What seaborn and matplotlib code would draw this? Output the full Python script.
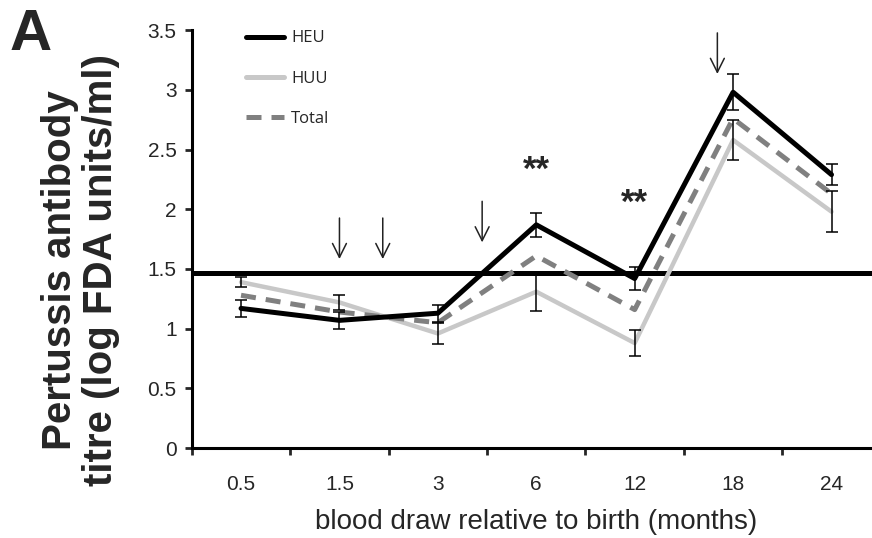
import numpy as np
import pandas as pd
import matplotlib
matplotlib.use("Agg")
import matplotlib.pyplot as plt
import seaborn as sns

# data
months = ["0.5", "1.5", "3", "6", "12", "18", "24"]
heu = [1.17, 1.07, 1.13, 1.87, 1.42, 2.98, 2.29]
huu = [1.39, 1.22, 0.96, 1.31, 0.88, 2.58, 1.98]
total = [1.28, 1.14, 1.05, 1.61, 1.16, 2.76, 2.13]
heu_err = [0.07, 0.07, 0.07, 0.10, 0.10, 0.15, 0.09]
huu_err = [0.04, 0.06, 0.09, 0.16, 0.11, 0.17, 0.17]
threshold = 1.47
# vaccination arrows (category position, top, bottom)
arrow_x = [1.0, 1.44, 2.45, 4.84]
arrow_top = [1.95, 1.95, 2.09, 3.50]
arrow_bot = [1.56, 1.56, 1.70, 3.11]
sig_x = [3, 4]
sig_y = [2.33, 2.05]

sns.set_style("ticks")
plt.rcParams['font.family'] = ['Liberation Sans', 'DejaVu Sans']

df = pd.DataFrame({"pos": np.arange(len(months)), "HEU": heu, "HUU": huu, "Total": total})

fig = plt.figure(figsize=(8.72, 5.38), dpi=100)
ax = fig.add_axes([0.22, 0.167, 0.79, 0.777])

ax.axhline(threshold, color="black", lw=3.6, zorder=1)

sns.lineplot(data=df, x="pos", y="HEU", ax=ax, color="black", lw=3.6, label="HEU", zorder=4)
sns.lineplot(data=df, x="pos", y="HUU", ax=ax, color="#c8c8c8", lw=3.2, label="HUU", zorder=2)
sns.lineplot(data=df, x="pos", y="Total", ax=ax, color="#808080", lw=3.6, label="Total", zorder=3)
ax.lines[-1].set_dashes([3, 2])

ax.errorbar(df["pos"], heu, yerr=heu_err, fmt="none", ecolor="black", elinewidth=1.1, capsize=4, capthick=1.1, zorder=5)
ax.errorbar(df["pos"], huu, yerr=huu_err, fmt="none", ecolor="black", elinewidth=1.1, capsize=4, capthick=1.1, zorder=5)

for x, t, b in zip(arrow_x, arrow_top, arrow_bot):
    ax.annotate("", xy=(x, b), xytext=(x, t),
                arrowprops=dict(arrowstyle="->,head_length=1.0,head_width=0.5", color="#222222", lw=1.1))

for x, y in zip(sig_x, sig_y):
    ax.text(x, y, "**", ha="center", va="center", fontsize=25, fontweight="bold")

ax.set_xlim(-0.5, 6.5)
ax.set_ylim(0, 3.5)
ax.set_xticks(range(len(months)))
ax.set_xticklabels(months)
ax.set_xticks(np.arange(-0.5, 7, 1), minor=True)
ax.tick_params(axis="x", which="major", length=0, labelsize=15, pad=19)
ax.tick_params(axis="x", which="minor", length=5, width=2, direction="out")
ax.set_yticks(np.arange(0, 3.6, 0.5))
ax.set_yticklabels(["0", "0.5", "1", "1.5", "2", "2.5", "3", "3.5"])
ax.tick_params(axis="y", length=5, width=2, labelsize=15, pad=6)

for s in ["left", "bottom"]:
    ax.spines[s].set_linewidth(2.2)
    ax.spines[s].set_color("black")
sns.despine(ax=ax)

ax.set_xlabel("blood draw relative to birth (months)", fontsize=20, labelpad=11)
ax.set_ylabel("Pertussis antibody\ntitre (log FDA units/ml)", fontsize=29, fontweight="bold",
              linespacing=1.1)
ax.yaxis.set_label_coords(-0.105, 0.426)

leg = ax.legend(loc="upper left", bbox_to_anchor=(0.057, 1.035), frameon=False,
                handlelength=2.3, labelspacing=1.45, handletextpad=0.4,
                prop={"family": ["Open Sans", "DejaVu Sans"], "size": 12})
for h in leg.get_lines():
    h.set_linewidth(3.6)

fig.text(0.011, 0.985, "A", fontsize=42, fontweight="bold", va="top", ha="left")

fig.savefig("out.png", dpi=100)
